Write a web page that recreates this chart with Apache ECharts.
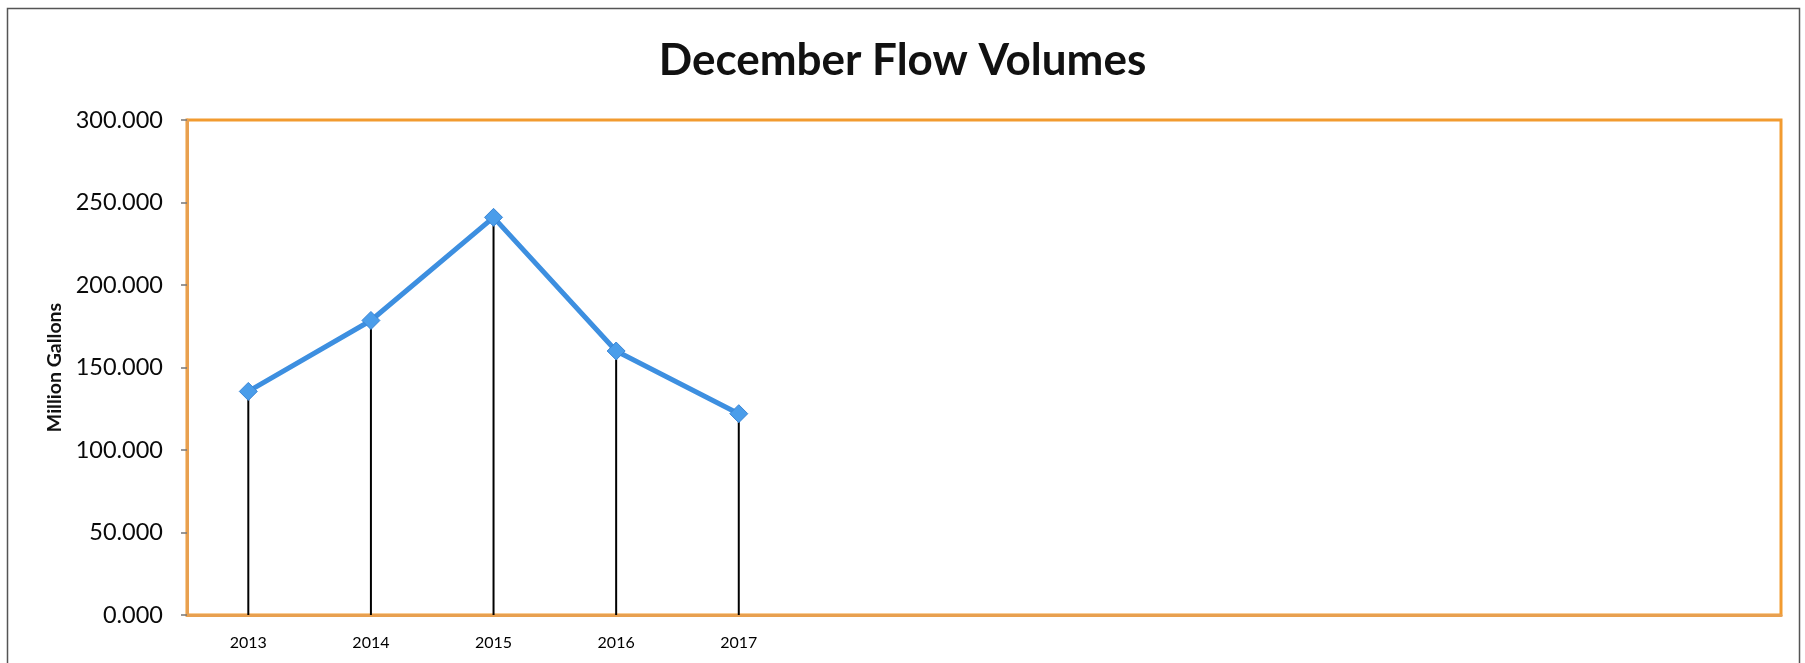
<!DOCTYPE html>
<html>
<head>
<meta charset="utf-8">
<script src="https://cdn.jsdelivr.net/npm/echarts@6/dist/echarts.min.js"></script>
<style>
html,body{margin:0;padding:0;background:#fff;}
#chart{width:1805px;height:663px;}
</style>
</head>
<body>
<div id="chart"></div>
<script>
const titleText = "December Flow Volumes";
const yAxisName = "Million Gallons";
const categories = ["2013","2014","2015","2016","2017","","","","","","","",""];
const flowValues = [135.5, 178.5, 241.0, 160.0, 122.0];
const yTicks = {min: 0, max: 300, interval: 50};

const chart = echarts.init(document.getElementById('chart'), null, {renderer: 'canvas'});
chart.setOption({
  backgroundColor: '#fff',
  animation: false,
  title: {
    text: titleText,
    left: 'center',
    top: 34,
    textStyle: {fontFamily: 'Lato', fontWeight: 'bold', fontSize: 44, color: '#111'}
  },
  graphic: [{
    type: 'rect',
    shape: {x: 7.5, y: 8.5, width: 1792, height: 700},
    style: {fill: 'none', stroke: '#555', lineWidth: 1.5},
    silent: true
  }],
  grid: {
    left: 187, right: 24, top: 120, bottom: 48,
    show: true, borderColor: '#F29B30', borderWidth: 3, backgroundColor: 'transparent'
  },
  xAxis: {
    type: 'category',
    data: categories,
    axisTick: {show: false},
    axisLine: {show: true, lineStyle: {color: '#E8A050', width: 3}},
    axisLabel: {fontFamily: 'Lato', fontSize: 16, color: '#000', margin: 20, interval: 0},
    splitLine: {show: false}
  },
  yAxis: {
    type: 'value',
    min: yTicks.min, max: yTicks.max, interval: yTicks.interval,
    name: yAxisName,
    nameLocation: 'middle',
    nameGap: 122,
    nameRotate: 90,
    nameTextStyle: {fontFamily: 'Lato', fontWeight: 'bold', fontSize: 19.5, color: '#111'},
    axisLine: {show: true, lineStyle: {color: '#E8A050', width: 3}},
    axisTick: {show: true, length: 6, lineStyle: {color: '#777', width: 1.5}},
    axisLabel: {fontFamily: 'Lato', fontSize: 23.5, color: '#0a0a0a', margin: 24,
      formatter: v => v.toFixed(3)},
    splitLine: {show: false}
  },
  series: [
    {
      type: 'bar',
      data: flowValues,
      barWidth: 2,
      itemStyle: {color: '#000'},
      z: 1,
      silent: true
    },
    {
      type: 'line',
      data: flowValues,
      symbol: 'diamond',
      symbolSize: 18,
      lineStyle: {color: '#3D8FE0', width: 5},
      itemStyle: {color: '#4A9DEA', borderColor: '#3A86D6', borderWidth: 1},
      z: 3
    }
  ]
});
</script>
</body>
</html>
